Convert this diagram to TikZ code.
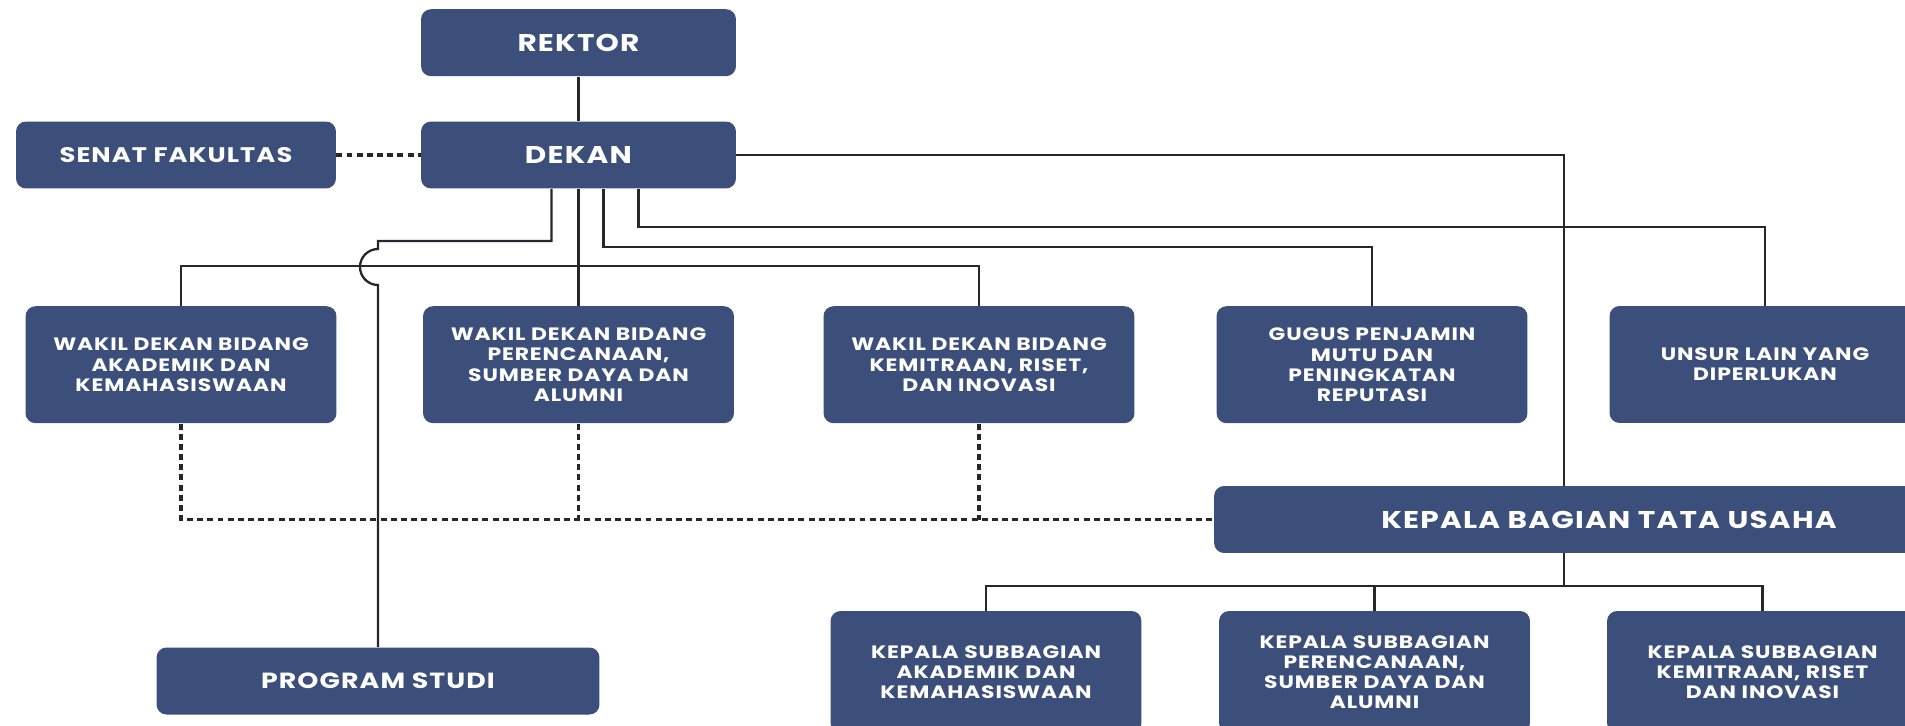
\documentclass[tikz,border=0pt]{standalone}
\usepackage{fontspec}
\setmainfont{Poppins}
\newfontfamily\orgfont{Poppins}[FakeStretch=1.22, LetterSpace=5]
\usetikzlibrary{calc}
\definecolor{navy}{RGB}{59,79,122}
\definecolor{wire}{RGB}{38,38,44}
\tikzset{
  unit/.style={fill=navy, rounded corners=0.2cm, text=white, align=center, inner sep=0pt,
    font=\orgfont\bfseries\fontsize{13.8}{15}\selectfont, minimum height=1.34cm},
  subunit/.style={unit, font=\orgfont\bfseries\fontsize{10.2}{11.4}\selectfont, minimum width=6.22cm, minimum height=2.34cm},
  link/.style={wire, line width=1.3pt},
  dashline/.style={wire, line width=1.8pt, dash pattern=on 3.4pt off 2.4pt},
}

\begin{document}
\begin{tikzpicture}[x=0.02cm, y=-0.02cm]   %% pixel grid, y down
	\useasboundingbox (0,0) rectangle (1905,726);
	\clip (0,0) rectangle (1905,726);
	\node[unit, minimum width=6.3cm] (rektor) at (578.5,42.7) {REKTOR};
	\node[unit, minimum width=6.4cm, font=\orgfont\bfseries\fontsize{12}{14}\selectfont] (senat) at (176,155) {SENAT FAKULTAS};
	\node[unit, minimum width=6.3cm] (dekan) at (578.5,155) {DEKAN};
	\node[subunit] (w1) at (181,364.7) {WAKIL DEKAN BIDANG\\AKADEMIK DAN\\KEMAHASISWAAN};
	\node[subunit] (w2) at (578.5,364.7) {WAKIL DEKAN BIDANG\\PERENCANAAN,\\SUMBER DAYA DAN\\ALUMNI};
	\node[subunit] (w3) at (979,364.7) {WAKIL DEKAN BIDANG\\KEMITRAAN, RISET,\\DAN INOVASI};
	\node[subunit] (gugus) at (1372,364.7) {GUGUS PENJAMIN\\MUTU DAN\\PENINGKATAN\\REPUTASI};
	\node[subunit] (unsur) at (1765,364.5) {UNSUR LAIN YANG\\DIPERLUKAN};
	\node[unit, minimum width=15.8cm] (kb) at (1609,519.5) {KEPALA BAGIAN TATA USAHA};
	\node[unit, minimum width=8.86cm, font=\orgfont\bfseries\fontsize{12.5}{14}\selectfont] (prodi) at (378,681) {PROGRAM STUDI};
	\node[subunit, minimum height=2.44cm] (s1) at (986,672) {KEPALA SUBBAGIAN\\AKADEMIK DAN\\KEMAHASISWAAN};
	\node[subunit, minimum height=2.44cm] (s2) at (1374.5,672) {KEPALA SUBBAGIAN\\PERENCANAAN,\\SUMBER DAYA DAN\\ALUMNI};
	\node[subunit, minimum height=2.44cm] (s3) at (1762.5,672) {KEPALA SUBBAGIAN\\KEMITRAAN, RISET\\DAN INOVASI};

	% rails
	\coordinate (hu) at (0,226.7);
	\coordinate (hp) at (0,241);
	\coordinate (hg) at (0,247);
	\coordinate (hw) at (0,266);
	\coordinate (hs) at (0,586);
	\coordinate (tu) at (1564,486);
	\coordinate (jump) at (378,249);
	\coordinate (d1) at ($(dekan.south)+(-27,0)$);
	\coordinate (d3) at ($(dekan.south)+(25,0)$);
	\coordinate (d4) at ($(dekan.south)+(60,0)$);

	\draw[link] (rektor) -- (dekan);
	\draw[dashline] (senat) -- (dekan);
	\draw[link] (dekan.east) -| (tu);
	\draw[link] (d4) -- (d4 |- hu) -| (unsur.north);
	\draw[link] (d3) -- (d3 |- hg) -| (gugus.north);
	\draw[link] (d1) -- (d1 |- hp) -| (jump) arc[start angle=90, end angle=270, radius=0.36cm] -- (prodi.north);
	\draw[link] (dekan.south) -- (w2.north);
	\draw[link] (w1.north) |- (w3.north |- hw) -- (w3.north);

	\draw[dashline] (w1.south) |- (kb.west);
	\draw[dashline] (w2.south) -- (w2.south |- kb.west);
	\draw[dashline] (w3.south) -- (w3.south |- kb.west);

	\draw[link] (tu |- kb.south) -- (tu |- hs);
	\draw[link] (s1.north) |- (s3.north |- hs) -- (s3.north);
	\draw[link] (s2.north) -- (s2.north |- hs);
\end{tikzpicture}
\end{document}
